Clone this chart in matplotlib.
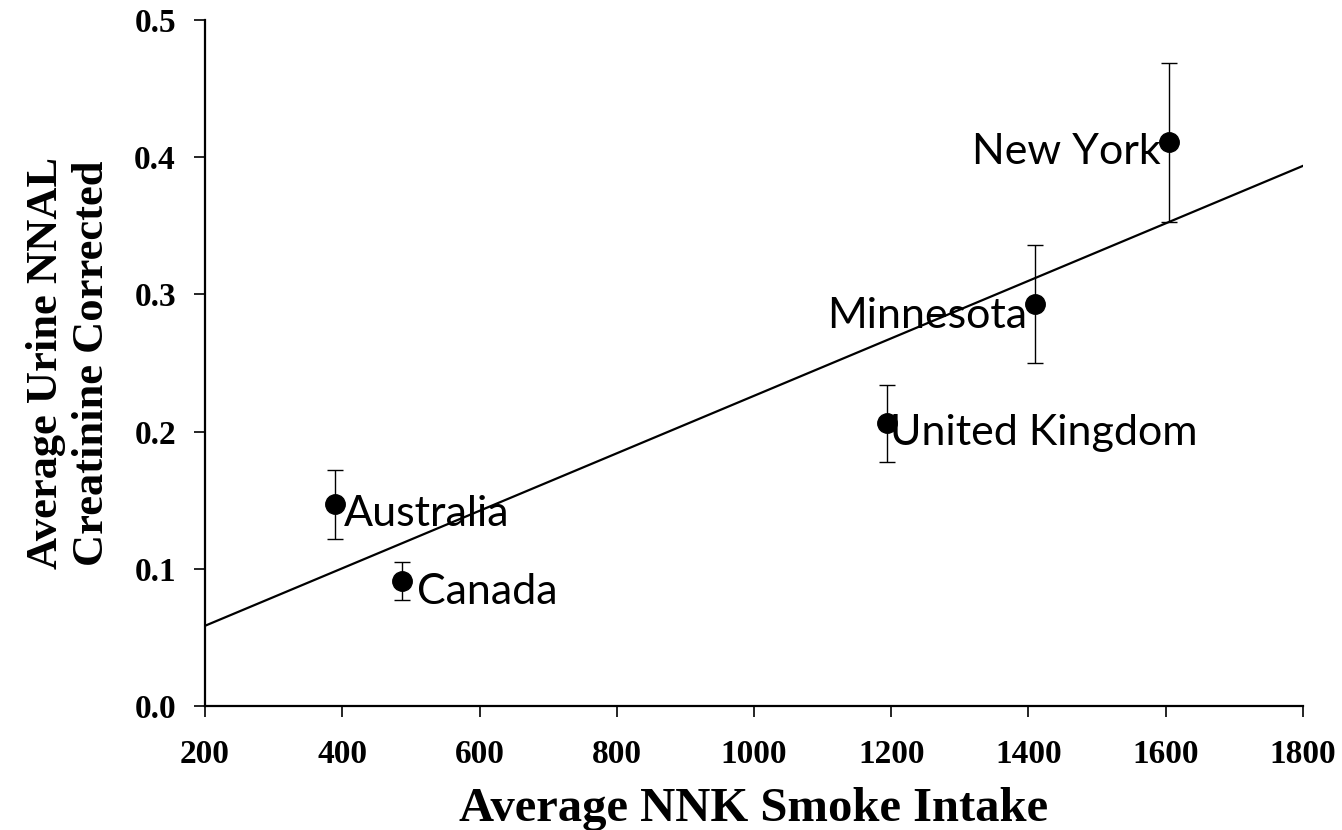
import numpy as np
import matplotlib
matplotlib.use("Agg")
import matplotlib.pyplot as plt

# data
places = ["Australia", "Canada", "United Kingdom", "Minnesota", "New York"]
nnk_intake = [389, 487, 1194, 1409, 1605]
nnal = [0.147, 0.091, 0.206, 0.293, 0.411]
nnal_err = [0.025, 0.014, 0.028, 0.043, 0.058]

xticks = [200, 400, 600, 800, 1000, 1200, 1400, 1600, 1800]
yticks = [0.0, 0.1, 0.2, 0.3, 0.4, 0.5]

# label offsets (pixels) and alignment
label_off = [(9, -22), (15, -23), (3, -22), (-8, -24), (-8, -22)]
label_ha = ["left", "left", "left", "right", "right"]

serif = "Liberation Serif"
label_font = "Lato"

fig = plt.figure(figsize=(13.42, 8.30), dpi=100)
ax = fig.add_axes([0.1528, 0.1494, 0.8181, 0.8265])

# regression line over the full x range
slope, icpt = np.polyfit(nnk_intake, nnal, 1)
xr = np.array([xticks[0], xticks[-1]])
ax.plot(xr, slope * xr + icpt, color="black", lw=1.6, zorder=2)

ax.errorbar(nnk_intake, nnal, yerr=nnal_err, fmt="o", color="black",
            ms=14, ecolor="black", elinewidth=1.0, capsize=6, capthick=1.0,
            zorder=3)

for name, x, y, off, ha in zip(places, nnk_intake, nnal, label_off, label_ha):
    ax.annotate(name, (x, y), xytext=off, textcoords="offset pixels",
                ha=ha, va="baseline", fontsize=31, family=label_font)

ax.set_xlim(xticks[0], xticks[-1])
ax.set_ylim(yticks[0], yticks[-1])
ax.set_xticks(xticks)
ax.set_yticks(yticks)
ax.set_yticklabels(["%.1f" % v for v in yticks])

for sp in ["top", "right"]:
    ax.spines[sp].set_visible(False)
for sp in ["left", "bottom"]:
    ax.spines[sp].set_linewidth(1.6)

ax.tick_params(axis="both", direction="out", length=8, width=1.2)
ax.tick_params(axis="x", pad=16)
ax.tick_params(axis="y", pad=13)
for lab in ax.get_xticklabels() + ax.get_yticklabels():
    lab.set_fontfamily(serif)
    lab.set_fontweight("bold")
    lab.set_fontsize(24)

ax.set_xlabel("Average NNK Smoke Intake", family=serif, fontweight="bold",
              fontsize=35, labelpad=12)
ax.set_ylabel("Average Urine NNAL\nCreatinine Corrected", family=serif,
              fontweight="bold", fontsize=32, linespacing=1.2)
ax.yaxis.set_label_coords(-0.085, 0.5)

fig.savefig("out.png", dpi=100)
